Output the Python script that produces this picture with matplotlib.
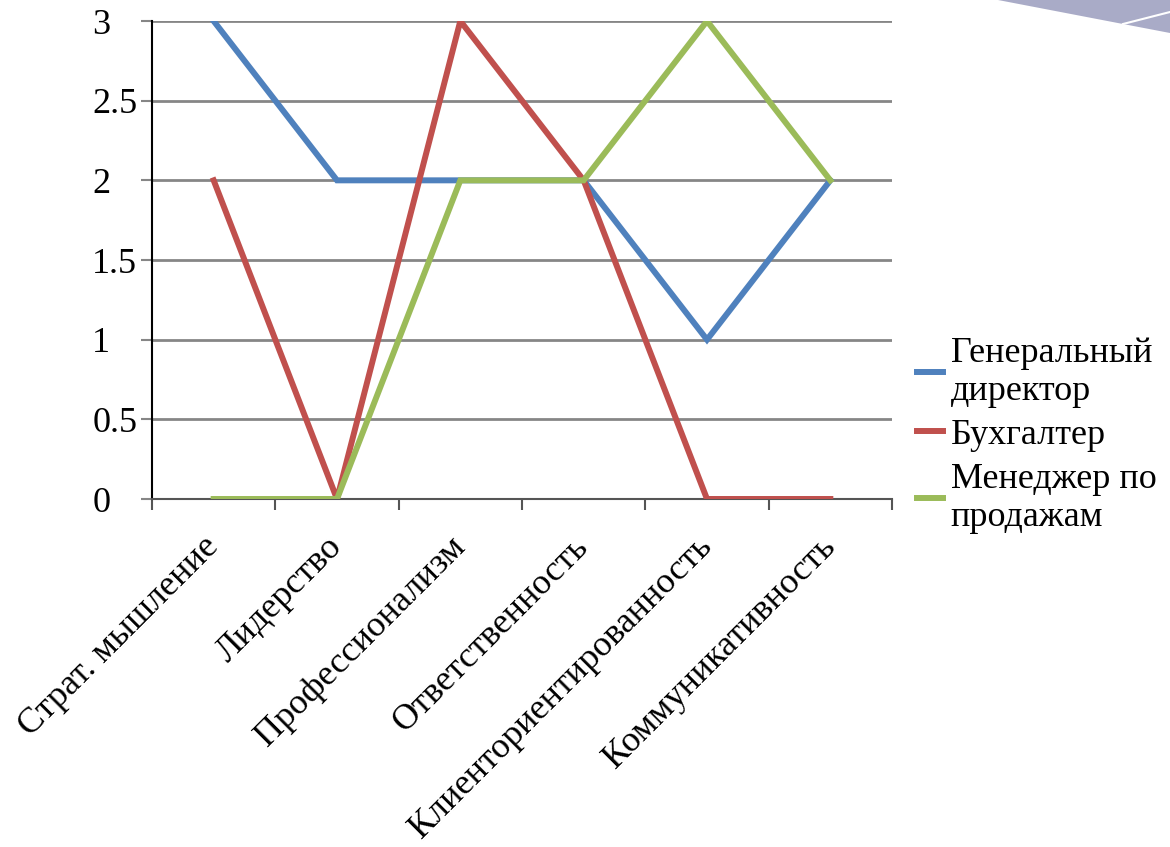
import matplotlib
matplotlib.use("agg")
import matplotlib.pyplot as plt
from matplotlib.patches import Polygon
from matplotlib.lines import Line2D

# competencies and scores
categories = ["Страт. мышление", "Лидерство", "Профессионализм", "Ответственность",
              "Клиенториентированность", "Коммуникативность"]
director = [3, 2, 2, 2, 1, 2]
accountant = [2, 0, 3, 2, 0, 0]
sales_manager = [0, 0, 2, 2, 3, 2]
series_names = ["Генеральный\nдиректор", "Бухгалтер", "Менеджер по\nпродажам"]
y_ticks = [0, 0.5, 1, 1.5, 2, 2.5, 3]
y_tick_labels = ["0", "0.5", "1", "1.5", "2", "2.5", "3"]

plt.rcParams["font.family"] = ["Liberation Serif", "DejaVu Serif"]
FS = 26

fig = plt.figure(figsize=(11.7, 8.47), dpi=100)
ax = fig.add_axes([152 / 1170, 1 - 499 / 847, 740 / 1170, 478 / 847])

x = list(range(len(categories)))
ax.plot(x, director, color="#4F81BD", lw=4.3, solid_joinstyle="miter", zorder=3)
ax.plot(x, accountant, color="#C0504D", lw=4.3, solid_joinstyle="miter", zorder=4)
ax.plot(x, sales_manager, color="#9BBB59", lw=4.3, solid_joinstyle="miter", zorder=5)

ax.set_xlim(-0.5, len(categories) - 0.5)
ax.set_ylim(0, 3)

# y axis / grid
ax.set_yticks(y_ticks)
ax.set_yticklabels(y_tick_labels, fontsize=FS)
ax.yaxis.grid(True, color="#868686", lw=2)
ax.tick_params(axis="y", length=8, width=1.5, color="#868686", pad=35)
for lab in ax.get_yticklabels():
    lab.set_horizontalalignment("left")
ax.set_axisbelow(True)

# x axis: ticks between categories, labels at centres
ax.set_xticks([i - 0.5 for i in range(len(categories) + 1)])
ax.set_xticklabels([])
ax.tick_params(axis="x", length=8, width=1.5, color="#555555")
ax.set_xticks(x, minor=True)
ax.set_xticklabels(categories, minor=True, fontsize=FS, rotation=45,
                   ha="right", va="center", rotation_mode="anchor")
ax.tick_params(axis="x", which="minor", length=0, pad=31)

for s in ["top", "right"]:
    ax.spines[s].set_visible(False)
ax.spines["left"].set_color("black")
ax.spines["left"].set_linewidth(1.5)
ax.spines["bottom"].set_color("#555555")
ax.spines["bottom"].set_linewidth(1.5)

handles = [Line2D([], [], color=c, lw=4.3) for c in ["#4F81BD", "#C0504D", "#9BBB59"]]
fig.legend(handles, series_names, loc="center left", bbox_to_anchor=(0.784, 0.486),
           frameon=False, fontsize=FS, handlelength=0.72, handletextpad=0.2,
           labelspacing=0.3, borderpad=0, borderaxespad=0)

# decorative swoosh at top right
fig.patches.append(Polygon([[998 / 1170, 1], [1123 / 1170, 1 - 24 / 847],
                            [1, 1 - 33 / 847], [1, 1]],
                           closed=True, transform=fig.transFigure,
                           facecolor="#A9ABC7", edgecolor="none"))
fig.lines.append(Line2D([1123 / 1170, 1], [1 - 24 / 847, 1 - 12 / 847],
                        transform=fig.transFigure, color="white", lw=1.5))

fig.savefig("out.png", dpi=100)
